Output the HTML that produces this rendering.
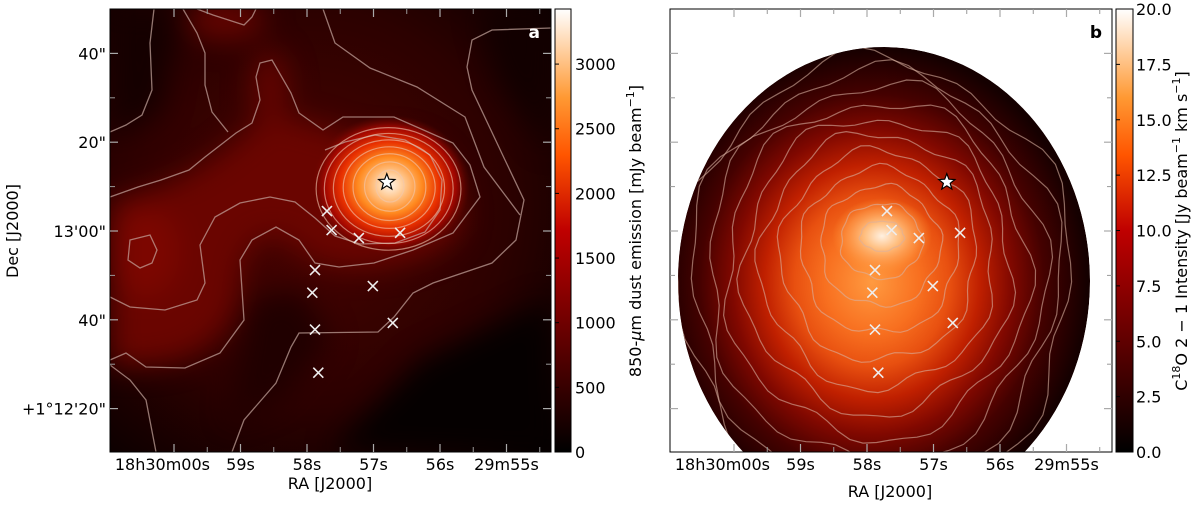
<!DOCTYPE html>
<html><head><meta charset="utf-8">
<style>
html,body{margin:0;padding:0;background:#fff;}
body{width:1200px;height:504px;overflow:hidden;font-family:"Liberation Sans","DejaVu Sans",sans-serif;}
svg text{font-family:"DejaVu Sans","Liberation Sans",sans-serif;}
</style></head>
<body>
<svg id="fig" width="1200" height="504" viewBox="0 0 1200 504" xmlns="http://www.w3.org/2000/svg">
<defs>
  <linearGradient id="cmap" x1="0" y1="1" x2="0" y2="0">
    <stop offset="0" stop-color="#000"/>
    <stop offset="0.15" stop-color="#390000"/>
    <stop offset="0.3" stop-color="#730000"/>
    <stop offset="0.5" stop-color="#bf0000"/>
    <stop offset="0.67" stop-color="#ff5500"/>
    <stop offset="0.8" stop-color="#ff9933"/>
    <stop offset="0.9" stop-color="#ffcc99"/>
    <stop offset="1" stop-color="#fff"/>
  </linearGradient>
  <radialGradient id="peakA" cx="0.5" cy="0.5" r="0.5">
    <stop offset="0" stop-color="#fff4e8"/>
    <stop offset="0.18" stop-color="#ffc890"/>
    <stop offset="0.4" stop-color="#ff8a20"/>
    <stop offset="0.62" stop-color="#e83000"/>
    <stop offset="0.82" stop-color="#a00600"/>
    <stop offset="1" stop-color="#600500" stop-opacity="0"/>
  </radialGradient>
  <radialGradient id="bgA" cx="0.45" cy="0.45" r="0.75">
    <stop offset="0" stop-color="#4a0300"/>
    <stop offset="0.6" stop-color="#2c0100"/>
    <stop offset="1" stop-color="#080000"/>
  </radialGradient>
  <radialGradient id="bgB" cx="0.5" cy="0.5" r="0.5">
    <stop offset="0" stop-color="#ff9a40"/>
    <stop offset="0.22" stop-color="#f87020"/>
    <stop offset="0.36" stop-color="#e85010"/>
    <stop offset="0.5" stop-color="#c02000"/>
    <stop offset="0.65" stop-color="#800800"/>
    <stop offset="0.8" stop-color="#450100"/>
    <stop offset="1" stop-color="#150000"/>
  </radialGradient>
  <radialGradient id="peakB" cx="0.5" cy="0.5" r="0.5">
    <stop offset="0" stop-color="#fff0e0"/>
    <stop offset="0.35" stop-color="#ffbf80"/>
    <stop offset="0.7" stop-color="#ffa050" stop-opacity="0.6"/>
    <stop offset="1" stop-color="#ff9030" stop-opacity="0"/>
  </radialGradient>
  <filter id="blur12" x="-50%" y="-50%" width="200%" height="200%" color-interpolation-filters="sRGB"><feGaussianBlur stdDeviation="14"/></filter>
  <clipPath id="clipA"><rect x="110" y="9" width="441" height="443"/></clipPath>
  <clipPath id="clipB"><rect x="670" y="9" width="442" height="443"/></clipPath>
  <clipPath id="clipEll"><ellipse cx="884" cy="281" rx="206" ry="234"/></clipPath>
</defs>

<!-- PANEL A -->
<g id="panelA" clip-path="url(#clipA)">
  <rect x="110" y="9" width="441" height="443" fill="url(#bgA)"/>
  <g filter="url(#blur12)">
    <path d="M110,200 C170,190 220,160 260,120 C300,110 340,140 380,140 C430,130 470,180 460,230 C430,270 330,280 300,250 C270,220 240,240 240,290 C230,350 180,370 110,365 Z" fill="#6a0500"/>
    <ellipse cx="145" cy="252" rx="35" ry="45" fill="#7c0600"/>
    <ellipse cx="225" cy="20" rx="40" ry="20" fill="#640400"/>
    <ellipse cx="270" cy="90" rx="18" ry="40" fill="#640400"/>
    <path d="M420,360 L551,300 L551,452 L330,452 Z" fill="#050000"/>
    <path d="M250,300 L300,290 L330,340 L280,400 L230,420 Z" fill="#200000"/>
    <path d="M110,9 L180,9 L160,110 L110,140 Z" fill="#150000"/>
    <path d="M480,9 L551,9 L551,150 L500,80 Z" fill="#120000"/>
  </g>
  <ellipse cx="390" cy="185" rx="80" ry="70" fill="url(#peakA)"/>
  <g id="contA" fill="none" stroke="#c8a8a0" stroke-opacity="0.7" stroke-width="1.3">
    <path d="M551,28 L492,30 L472,40 L467,67 L472,90 L505,160 L524,200 L516,240 L492,263 L433,283 L413,293 L394,317 L378,332 L299,333 L291,347 L276,383 L244,420 L232,452"/>
    <path d="M110,360 L126,353 L146,367 L185,368 L220,353 L244,320 L240,260 L252,240 L276,227 L299,240 L315,263 L339,267 L374,263 L413,250 L453,233 L480,197 L470,165 L453,143 L394,117 L343,117 L323,130 L299,113 L291,93 L272,60 L260,63 L256,77 L260,100 L252,123 L236,133 L205,157 L189,170 L161,180 L138,187 L110,197"/>
    <path d="M110,297 L130,307 L165,310 L197,300 L205,283 L200,245 L215,217 L240,203 L270,197 L295,202 L315,218 L335,236 L360,244 L395,243 L425,232 L440,210 L442,180 L430,155 L405,140 L375,135 L345,142 L325,150"/>
    <path d="M130,240 L150,235 L157,250 L152,263 L140,268 L128,260 Z"/>
    <path d="M110,132 L126,125 L142,115 L152,90 L150,43 L154,9"/>
    <path d="M110,365 L130,380 L146,400 L156,452"/>
    <path d="M197,9 L213,15 L244,25 L252,17 L256,9"/>
    <path d="M183,9 L197,33 L205,53 L205,85 L212,112 L228,132"/>
    <path d="M323,9 L335,43 L370,68 L417,87 L465,117 L484,167 L520,215"/>
  </g>
  <g id="ringsA" fill="none" stroke="#f0c8b0" stroke-opacity="0.6" stroke-width="1.2"></g>
  <g id="markersA"></g>
  <text x="540" y="38" font-size="17" font-weight="bold" fill="#fff" text-anchor="end">a</text>
</g>
<rect x="110" y="9" width="441" height="443" fill="none" stroke="#000" stroke-width="1"/>
<g id="ticksA"></g>
<text x="330" y="489" font-size="16" text-anchor="middle">RA [J2000]</text>
<text transform="translate(18,231) rotate(-90)" font-size="16" text-anchor="middle">Dec [J2000]</text>

<!-- colorbar A -->
<rect x="555" y="9" width="16" height="443" fill="url(#cmap)" stroke="#000" stroke-width="1"/>
<g id="cbTicksA"></g>
<text transform="translate(641,231) rotate(-90)" font-size="16" text-anchor="middle">850-<tspan font-style="italic">μ</tspan>m dust emission [mJy beam<tspan dy="-7" font-size="11">−1</tspan><tspan dy="7">]</tspan></text>

<!-- PANEL B -->
<g id="panelB" clip-path="url(#clipB)">
  <rect x="670" y="9" width="442" height="443" fill="#fff"/>
  <g clip-path="url(#clipEll)">
    <ellipse cx="884" cy="281" rx="206" ry="234" fill="#150000"/>
    <ellipse cx="872" cy="282" rx="215" ry="235" fill="url(#bgB)"/>
    <ellipse cx="882" cy="236" rx="50" ry="38" fill="url(#peakB)"/>
    <g id="contB" fill="none" stroke="#d8b0a0" stroke-opacity="0.6" stroke-width="1.2"></g>
  </g>
  <g id="markersB"></g>
  <text x="1102" y="38" font-size="17" font-weight="bold" fill="#000" text-anchor="end">b</text>
</g>
<rect x="670" y="9" width="442" height="443" fill="none" stroke="#000" stroke-width="1"/>
<g id="ticksB"></g>
<text x="890" y="497" font-size="16" text-anchor="middle">RA [J2000]</text>

<rect x="1116" y="9" width="17" height="443" fill="url(#cmap)" stroke="#000" stroke-width="1"/>
<g id="cbTicksB"></g>
<text transform="translate(1187,231) rotate(-90)" font-size="16" text-anchor="middle">C<tspan dy="-7" font-size="11">18</tspan><tspan dy="7">O 2 − 1 Intensity [Jy beam</tspan><tspan dy="-7" font-size="11">−1</tspan><tspan dy="7"> km s</tspan><tspan dy="-7" font-size="11">−1</tspan><tspan dy="7">]</tspan></text>
</svg>
<script>
// RA seconds (18h30m00s = 60), Dec arcsec offset from +1°13'00"
const coreRA  = [57.70, 57.63, 57.22, 56.60, 57.88, 57.92, 57.01, 57.88, 56.71, 57.83];
const coreDec = [4.5, 0.2, -1.6, -0.4, -8.8, -13.9, -12.4, -22.2, -20.7, -31.9];
const starRA = [56.80];
const starDec = [11.0];
const raTicks = [60, 59, 58, 57, 56, 55];
const raLabels = ["18h30m00s", "59s", "58s", "57s", "56s", "29m55s"];
const decTicks = [40, 20, 0, -20, -40];
const decLabels = ['40"', '20"', "13'00\"", '40"', '+1°12\'20"'];
const cbA = [0, 500, 1000, 1500, 2000, 2500, 3000];
const cbAmax = [3426];
const cbB = [0, 2.5, 5, 7.5, 10, 12.5, 15, 17.5, 20];
const cbBmax = [20];
const ringLevelsA = [1, 0.86, 0.72, 0.6, 0.48, 0.37, 0.27];
const ringLevelsB = [1, 0.9, 0.8, 0.7, 0.6, 0.5, 0.41, 0.32, 0.23, 0.15, 0.08];

const NS = "http://www.w3.org/2000/svg";
function mk(tag, attrs, parent){const e=document.createElementNS(NS,tag);for(const k in attrs)e.setAttribute(k,attrs[k]);parent.appendChild(e);return e;}
function xA(s){return 174 + (60 - s) * 66.5;}
function xB(s){return 734 + (60 - s) * 66.5;}
function yD(d){return 231 - d * 4.44;}

function drawTicks(gid, xf, x0, x1, withY){
  const g = document.getElementById(gid);
  raTicks.forEach((s,i)=>{
    const x = xf(s);
    for (const [ya,yb] of [[452,444],[9,17]]) {
      const l = mk('line',{x1:x,x2:x,y1:ya,y2:yb,stroke:'#aaa','stroke-width':1.2},g);
      
      
    }
    const m = xf(s-0.5);
    if (m < x1) for (const [ya,yb] of [[452,447],[9,14]]) {
      const l = mk('line',{x1:m,x2:m,y1:ya,y2:yb,stroke:'#999','stroke-width':1},g);
      
      
    }
    const first = i === 0;
    const t = mk('text',{x:first ? x+36 : x,y:470,'font-size':16,'text-anchor':first?'end':'middle'},g);
    t.textContent = raLabels[i];
    
    
  });
  [50,30,10,-10,-30,-50].forEach(d=>{
    const y=yD(d); if(y<10||y>451) return;
    for (const [xa,xb] of [[x0,x0+5],[x1,x1-5]]) {
      const l = mk('line',{x1:xa,x2:xb,y1:y,y2:y,stroke:'#999','stroke-width':1},g);
      
      
    }
  });
  decTicks.forEach((d,i)=>{
    const y = yD(d);
    for (const [xa,xb] of [[x0,x0+8],[x1,x1-8]]) {
      const l = mk('line',{x1:xa,x2:xb,y1:y,y2:y,stroke:'#aaa','stroke-width':1.2},g);
      
      
    }
    if (withY) {
      const t = mk('text',{x:x0-4,y:y+6,'font-size':16,'text-anchor':'end'},g);
      t.textContent = decLabels[i];
      
      
    }
  });
}
drawTicks('ticksA', xA, 110, 551, true);
drawTicks('ticksB', xB, 670, 1112, false);

function drawMarkers(gid, xf){
  const g = document.getElementById(gid);
  coreRA.forEach((s,i)=>{
    const x = xf(s), y = yD(coreDec[i]);
    const p = mk('path',{d:`M${x-5},${y-5}L${x+5},${y+5}M${x+5},${y-5}L${x-5},${y+5}`,stroke:'#eee','stroke-width':1.6,fill:'none'},g);
    
    
  });
  starRA.forEach((s,i)=>{
    const cx = xf(s), cy = yD(starDec[i]);
    let d='';
    for(let k=0;k<10;k++){const r=k%2?3.6:8.5;const a=-Math.PI/2+k*Math.PI/5;d+=(k?'L':'M')+(cx+r*Math.cos(a)).toFixed(1)+','+(cy+r*Math.sin(a)).toFixed(1);}
    const p = mk('path',{d:d+'Z',fill:'#fff',stroke:'#000','stroke-width':1.2},g);
    
    
  });
}
drawMarkers('markersA', xA);
drawMarkers('markersB', xB);

(function(){
  const g = document.getElementById('ringsA');
  ringLevelsA.forEach(f=>{
    const s = 1 - f;
    const e = mk('ellipse',{cx:390 - s*2, cy:186 + s*4, rx:14 + s*80, ry:16 + s*62},g);
    
    
  });
  const gb = document.getElementById('contB');
  ringLevelsB.forEach((f,i)=>{
    const s = 1 - f;
    const cx = 882 - s*8, cy = 236 + s*50, rx = 22 + s*190, ry = 15 + s*225;
    let d='';
    for(let k=0;k<=72;k++){
      const a = k/72*2*Math.PI;
      const wob = 1 + 0.04*Math.sin(5*a + i) + 0.025*Math.sin(11*a + 2*i);
      const x = cx + rx*wob*Math.cos(a), y = cy + ry*wob*Math.sin(a);
      d += (k?'L':'M') + x.toFixed(1) + ',' + y.toFixed(1);
    }
    const p = mk('path',{d:d},gb);
    
    
  });
})();

function drawCb(gid, vals, vmax, x, fmt){
  const g = document.getElementById(gid);
  vals.forEach(v=>{
    const y = 452 - v/vmax*443;
    const l1 = mk('line',{x1:x,x2:x+4,y1:y,y2:y,stroke:'#000','stroke-width':1},g);
    
    
    const t = mk('text',{x:x+20,y:y+6,'font-size':16},g);
    t.textContent = fmt(v);
    
    
  });
}
drawCb('cbTicksA', cbA, cbAmax[0], 555, v=>String(v));
drawCb('cbTicksB', cbB, cbBmax[0], 1116, v=>v.toFixed(1));
</script>
</body></html>
